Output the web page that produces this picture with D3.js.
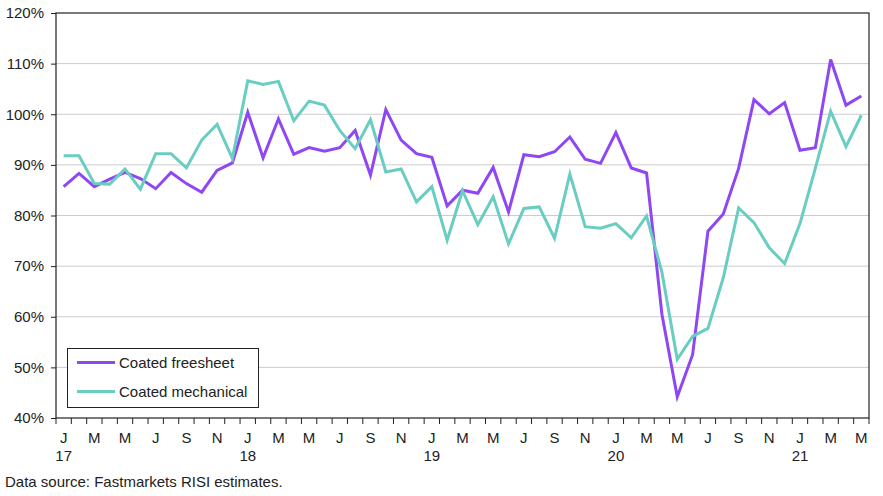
<!DOCTYPE html>
<html><head><meta charset="utf-8">
<script src="https://cdn.jsdelivr.net/npm/d3@7"></script>
<style>
body{margin:0;background:#fff;}
svg text{font-family:"Liberation Sans",Arial,sans-serif;fill:#222;}
</style></head><body>
<svg id="c" width="883" height="496"></svg>
<script>
const monthLetters = ["J","F","M","A","M","J","J","A","S","O","N","D"];
const years = ["17","18","19","20","21"];
const nMonths = 53; // Jan 2017 .. May 2021
const freesheet = [85.7,88.3,85.7,87.2,88.5,87.3,85.3,88.5,86.3,84.6,88.9,90.4,
  100.4,91.4,99.1,92.1,93.4,92.7,93.4,96.8,88.0,100.9,94.9,92.2,
  91.5,81.9,85.0,84.4,89.5,80.7,92.0,91.6,92.6,95.5,91.1,90.3,
  96.4,89.4,88.4,60.5,44.2,52.5,76.9,80.3,89.3,102.9,100.1,102.3,
  92.9,93.4,110.8,101.8,103.6];
const mechanical = [91.8,91.8,86.3,86.2,89.2,85.2,92.2,92.2,89.4,94.9,98.0,91.3,
  106.6,105.9,106.5,98.7,102.6,101.8,96.8,93.2,98.9,88.6,89.2,82.7,
  85.7,75.1,84.9,78.2,83.7,74.4,81.4,81.7,75.5,88.2,77.8,77.5,
  78.4,75.6,79.9,68.8,51.6,56.1,57.7,67.7,81.5,78.6,73.6,70.5,
  78.4,89.3,100.6,93.6,99.8];
const yTicks = [40,50,60,70,80,90,100,110,120];
const seriesNames = ["Coated freesheet","Coated mechanical"];
const colors = ["#8f47f3","#69cdc2"];

const svg = d3.select("#c");
const L=56, R=869, T=13, B=418;
const FS = 15;
const months = d3.range(nMonths);
const x = d3.scaleBand().domain(months).range([L,R]).padding(0);
const cx = i => x(i) + x.bandwidth()/2;
const y = d3.scaleLinear().domain([40,120]).range([B,T]);

// gridlines
svg.append("g").selectAll("line").data(yTicks.filter(v=>v>40&&v<120)).join("line")
  .attr("x1",L).attr("x2",R).attr("y1",d=>y(d)).attr("y2",d=>y(d))
  .attr("stroke","#cccccc").attr("stroke-width",1);

// frame
svg.append("rect").attr("x",L).attr("y",T).attr("width",R-L).attr("height",B-T)
  .attr("fill","none").attr("stroke","#222").attr("stroke-width",1.2);

// y axis
const yAxis = d3.axisLeft(y).tickValues(yTicks).tickFormat(d=>d+"%").tickSize(5).tickPadding(7);
const gy = svg.append("g").attr("transform",`translate(${L},0)`).call(yAxis);
gy.select(".domain").remove();
gy.selectAll("line").attr("stroke","#222");
gy.selectAll("text").attr("font-size",FS).attr("fill","#222").attr("font-family","Liberation Sans, Arial, sans-serif");

// x ticks at band boundaries
const bounds = d3.range(nMonths+1);
svg.append("g").selectAll("line").data(bounds).join("line")
  .attr("x1",d=>L + d*x.step()).attr("x2",d=>L + d*x.step())
  .attr("y1",B).attr("y2",B+6).attr("stroke","#222").attr("stroke-width",1);

// month labels every 2 months
const lab = months.filter(i=>i%2===0);
svg.append("g").selectAll("text").data(lab).join("text")
  .attr("x",d=>cx(d)).attr("y",443).attr("text-anchor","middle")
  .attr("font-size",FS).text(d=>monthLetters[d%12]);
svg.append("g").selectAll("text").data(years).join("text")
  .attr("x",(d,i)=>cx(i*12)).attr("y",461).attr("text-anchor","middle")
  .attr("font-size",FS).text(d=>d);

// lines
const line = d3.line().x((d,i)=>cx(i)).y(d=>y(d));
[freesheet,mechanical].forEach((s,k)=>{
  svg.append("path").datum(s).attr("d",line).attr("fill","none")
    .attr("stroke",colors[k]).attr("stroke-width",3).attr("stroke-linejoin","miter");
});
// legend
const lg = svg.append("g");
lg.append("rect").attr("x",67.5).attr("y",348.5).attr("width",191).attr("height",59)
  .attr("fill","#fff").attr("stroke","#222").attr("stroke-width",1);
seriesNames.forEach((n,k)=>{
  const yy = 362.5 + k*29;
  lg.append("line").attr("x1",77).attr("x2",115).attr("y1",yy).attr("y2",yy)
    .attr("stroke",colors[k]).attr("stroke-width",3);
  lg.append("text").attr("x",119).attr("y",yy+5).attr("font-size",FS).text(n);
});

svg.append("text").attr("x",5).attr("y",487).attr("font-size",FS)
  .text("Data source: Fastmarkets RISI estimates.");
</script></body></html>
